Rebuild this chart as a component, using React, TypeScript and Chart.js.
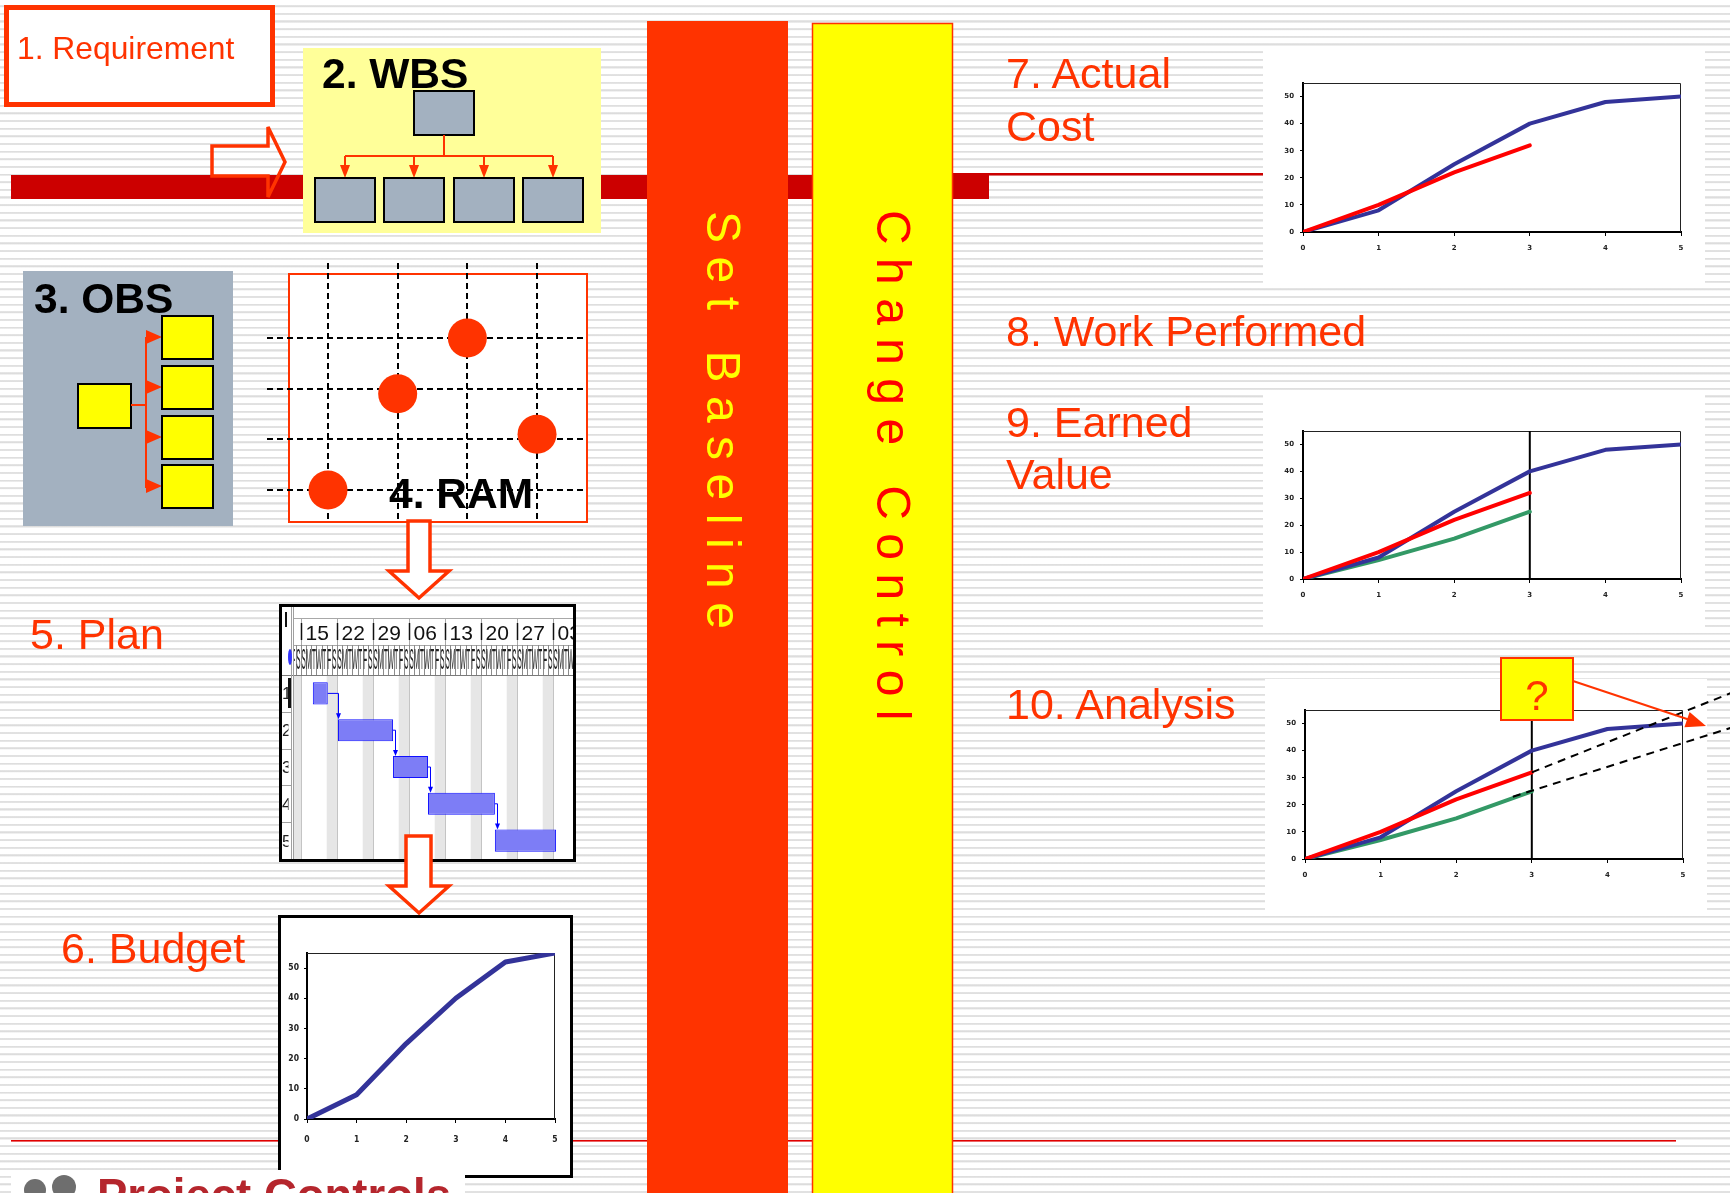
import React, { useEffect, useRef } from "react";
import { Chart, registerables } from "chart.js";

Chart.register(...registerables);

// ---------- data ----------
const PERIODS = [0, 1, 2, 3, 4, 5];
const BUDGET_CURVE = [0, 8, 25, 40, 52, 55];
const PLANNED_VALUE = [0, 8, 25, 40, 48, 50];
const ACTUAL_COST = [0, 10, 22, 32];
const EARNED_VALUE = [0, 7, 15, 25];
const STATUS_DATE = 3;
const COST_FORECAST = [{ x: 3, y: 32 }, { x: 5.7, y: 62 }];
const VALUE_FORECAST = [{ x: 2.75, y: 23 }, { x: 5.7, y: 49 }];
const VALUE_TICKS = [0, 10, 20, 30, 40, 50];
const VALUE_MAX = 55;

const TASK_IDS = ["1", "2", "3", "4", "5"];
const TASK_SPANS = [[2.3, 5.2], [7.2, 17.9], [17.9, 24.7], [24.7, 37.7], [37.7, 49.6]];
const WEEK_LABELS = ["15", "22", "29", "06", "13", "20", "27", "03"];
const DAY_LETTERS = ["S", "M", "T", "W", "T", "F", "S"];

const RAM_GRID = [1, 2, 3, 4];
const RAM_ASSIGNMENTS = [{ x: 3, y: 4 }, { x: 2, y: 2.9 }, { x: 4, y: 2.1 }, { x: 1, y: 1 }];

// ---------- styling ----------
const ORANGE = "#ff3300";
const BLUE = "#333399";
const RED = "#ff0000";
const GREEN = "#339966";
const SANS = "'Liberation Sans', Arial, Helvetica, sans-serif";

const series = (ys: number[]) => ys.map((y, i) => ({ x: PERIODS[i], y }));
const statusLine = () => [{ x: STATUS_DATE, y: 0 }, { x: STATUS_DATE, y: VALUE_MAX }];

const plotFrame = {
  id: "plotFrame",
  beforeDatasetsDraw(chart: any) {
    const { ctx, chartArea: a } = chart;
    ctx.save();
    ctx.strokeStyle = "#222";
    ctx.lineWidth = 1;
    ctx.beginPath();
    ctx.moveTo(a.left, a.top + 0.5);
    ctx.lineTo(a.right - 0.5, a.top + 0.5);
    ctx.lineTo(a.right - 0.5, a.bottom);
    ctx.stroke();
    ctx.restore();
  },
};

type Pad = { left: number; top: number; right: number; bottom: number };

function curveConfig(datasets: any[], pad: Pad, yW: number, xH: number, font: any, xPad: number, yPad: number) {
  return {
    type: "line",
    data: { datasets },
    options: {
      responsive: false,
      animation: false,
      events: [],
      layout: { padding: pad, autoPadding: false },
      plugins: { legend: { display: false }, tooltip: { enabled: false } },
      elements: {
        point: { radius: 0, hoverRadius: 0 },
        line: { tension: 0, borderCapStyle: "round", borderJoinStyle: "round" },
      },
      scales: {
        x: {
          type: "linear",
          min: 0,
          max: 5,
          afterBuildTicks: (s: any) => {
            s.ticks = PERIODS.map((v) => ({ value: v }));
          },
          afterFit: (s: any) => {
            s.height = xH;
          },
          ticks: { font, color: "#222", padding: xPad, maxRotation: 0, autoSkip: false },
          grid: { drawOnChartArea: false, tickLength: 4, color: "#000", lineWidth: 1 },
          border: { color: "#000", width: 2 },
        },
        y: {
          type: "linear",
          min: 0,
          max: VALUE_MAX,
          afterBuildTicks: (s: any) => {
            s.ticks = VALUE_TICKS.map((v) => ({ value: v }));
          },
          afterFit: (s: any) => {
            s.width = yW;
          },
          ticks: { font, color: "#222", padding: yPad, autoSkip: false },
          grid: { drawOnChartArea: false, tickLength: 3, color: "#000", lineWidth: 1 },
          border: { color: "#000", width: 2 },
        },
      },
    },
    plugins: [plotFrame],
  };
}

const SMALL_FONT = { family: "'DejaVu Sans', sans-serif", size: 7, weight: "bold" };
const NARROW_FONT = { family: "'Liberation Sans Narrow', 'DejaVu Sans Condensed', sans-serif", size: 8.5, weight: "bold" };

const line = (data: any[], color: string, width = 4) => ({ data, borderColor: color, borderWidth: width });
const forecast = (data: any[]) => ({
  data,
  borderColor: "#000",
  borderWidth: 2,
  borderDash: [8, 6],
  borderCapStyle: "butt",
  clip: false,
});

const budgetConfig = () =>
  curveConfig([line(series(BUDGET_CURVE), BLUE, 5)], { left: 6, top: 35, right: 15, bottom: 28 }, 20, 28, NARROW_FONT, 12, 5);

const costConfig = () =>
  curveConfig(
    [line(series(ACTUAL_COST), RED), line(series(PLANNED_VALUE), BLUE)],
    { left: 18, top: 37, right: 24, bottom: 33 },
    22,
    22,
    SMALL_FONT,
    8,
    6
  );

const earnedConfig = () =>
  curveConfig(
    [
      line(series(ACTUAL_COST), RED),
      line(series(PLANNED_VALUE), BLUE),
      line(series(EARNED_VALUE), GREEN),
      { ...line(statusLine(), "#000", 2), borderCapStyle: "butt" },
    ],
    { left: 18, top: 36, right: 24, bottom: 32 },
    22,
    22,
    SMALL_FONT,
    8,
    6
  );

const analysisConfig = () =>
  curveConfig(
    [
      forecast(COST_FORECAST),
      forecast(VALUE_FORECAST),
      line(series(ACTUAL_COST), RED),
      line(series(PLANNED_VALUE), BLUE),
      line(series(EARNED_VALUE), GREEN),
      { ...line(statusLine(), "#000", 2), borderCapStyle: "butt" },
    ],
    { left: 18, top: 31, right: 47, bottom: 29 },
    22,
    22,
    SMALL_FONT,
    8,
    6
  );

// ---------- responsibility matrix ----------
const ramMatrix = {
  id: "ramMatrix",
  beforeDatasetsDraw(chart: any) {
    const { ctx, scales } = chart;
    ctx.save();
    ctx.fillStyle = "#fff";
    ctx.fillRect(27, 16, 298, 248);
    ctx.strokeStyle = ORANGE;
    ctx.lineWidth = 2;
    ctx.strokeRect(27, 16, 298, 248);
    ctx.strokeStyle = "#000";
    ctx.lineWidth = 2;
    ctx.setLineDash([6, 4]);
    RAM_GRID.forEach((v) => {
      const x = Math.round(scales.x.getPixelForValue(v));
      ctx.beginPath();
      ctx.moveTo(x, 5);
      ctx.lineTo(x, 264);
      ctx.stroke();
      const y = Math.round(scales.y.getPixelForValue(v));
      ctx.beginPath();
      ctx.moveTo(5, y);
      ctx.lineTo(322, y);
      ctx.stroke();
    });
    ctx.restore();
  },
};

const ramConfig = () => ({
  type: "scatter",
  data: {
    datasets: [
      {
        data: RAM_ASSIGNMENTS,
        pointRadius: 19.5,
        pointHoverRadius: 19.5,
        pointBackgroundColor: ORANGE,
        pointBorderWidth: 0,
        backgroundColor: ORANGE,
        clip: false,
      },
    ],
  },
  options: {
    responsive: false,
    animation: false,
    events: [],
    layout: { padding: 0, autoPadding: false },
    scales: {
      x: { type: "linear", min: 0.0527, max: 4.789, display: false },
      y: { type: "linear", min: 0.27, max: 5.579, display: false },
    },
    plugins: { legend: { display: false }, tooltip: { enabled: false } },
  },
  plugins: [ramMatrix],
});

// ---------- schedule ----------
const ganttSheet = {
  id: "ganttSheet",
  beforeDatasetsDraw(chart: any) {
    const { ctx, chartArea: a, scales } = chart;
    const W = chart.width;
    const H = chart.height;
    const px = (d: number) => scales.x.getPixelForValue(d);
    const rowH = (a.bottom - a.top) / TASK_IDS.length;
    const HDR1 = 11;
    const HDR2 = 38;
    const seg = (x0: number, y0: number, x1: number, y1: number) => {
      ctx.beginPath();
      ctx.moveTo(x0, y0);
      ctx.lineTo(x1, y1);
      ctx.stroke();
    };
    ctx.save();
    ctx.fillStyle = "#fff";
    ctx.fillRect(0, 0, W, H);

    // body: weekend bands and week rules
    ctx.save();
    ctx.beginPath();
    ctx.rect(a.left, a.top, a.right - a.left, a.bottom - a.top);
    ctx.clip();
    ctx.fillStyle = "#e6e6e6";
    for (let k = 0; k <= WEEK_LABELS.length; k++) {
      const x0 = px(7 * k - 2);
      const x1 = px(7 * k);
      ctx.fillRect(x0, a.top, x1 - x0, a.bottom - a.top);
    }
    ctx.strokeStyle = "#c4c4c4";
    ctx.lineWidth = 1;
    for (let k = 0; k <= WEEK_LABELS.length; k++) {
      const x = Math.round(px(7 * k)) + 0.5;
      seg(x, a.top, x, a.bottom);
    }
    ctx.restore();

    // timescale header
    ctx.save();
    ctx.beginPath();
    ctx.rect(a.left, 0, W - a.left, a.top);
    ctx.clip();
    ctx.strokeStyle = "#a8a8a8";
    ctx.lineWidth = 1;
    seg(a.left, HDR1 + 0.5, W, HDR1 + 0.5);
    seg(a.left, HDR2 + 0.5, W, HDR2 + 0.5);
    for (let d = -2; d < 54; d++) {
      const x = Math.round(px(d)) + 0.5;
      ctx.strokeStyle = "#8c8c8c";
      seg(x, HDR2, x, a.top);
      ctx.save();
      ctx.translate(px(d + 0.5), 62);
      ctx.scale(0.22, 1);
      ctx.fillStyle = "#222";
      ctx.font = `29px ${SANS}`;
      ctx.textAlign = "center";
      ctx.fillText(DAY_LETTERS[((d % 7) + 7) % 7], 0, 0);
      ctx.restore();
    }
    WEEK_LABELS.forEach((lab, k) => {
      const x = Math.round(px(7 * k)) + 0.5;
      ctx.strokeStyle = "#a8a8a8";
      ctx.lineWidth = 1;
      seg(x, HDR1, x, HDR2);
      ctx.strokeStyle = "#111";
      ctx.lineWidth = 1.5;
      seg(x, 16, x, 33);
      ctx.fillStyle = "#111";
      ctx.font = `21px ${SANS}`;
      ctx.textAlign = "left";
      ctx.fillText(lab, x + 4, 33);
    });
    ctx.restore();

    ctx.strokeStyle = "#7a7a7a";
    ctx.lineWidth = 1;
    seg(0, a.top + 0.5, W, a.top + 0.5);

    // row header column
    ctx.strokeStyle = "#a0a0a0";
    seg(9.5, 0, 9.5, H);
    seg(11.5, 0, 11.5, H);
    for (let i = 1; i < TASK_IDS.length; i++) {
      const y = Math.round(a.top + i * rowH) + 0.5;
      seg(0, y, 9, y);
    }
    ctx.save();
    ctx.beginPath();
    ctx.rect(0, a.top, 6.5, H);
    ctx.clip();
    ctx.fillStyle = "#222";
    ctx.font = `17px ${SANS}`;
    TASK_IDS.forEach((id, i) => {
      ctx.fillText(id, 0, scales.y.getPixelForValue(i) + 6);
    });
    ctx.restore();
    ctx.fillStyle = "#111";
    ctx.fillRect(6, a.top + 3, 3, 30);
    ctx.fillRect(3, 5, 2, 15);
    ctx.fillStyle = "#3333ff";
    ctx.beginPath();
    ctx.ellipse(8, 50, 2, 8, 0, 0, Math.PI * 2);
    ctx.fill();
    ctx.restore();
  },
  afterDatasetsDraw(chart: any) {
    const { ctx, chartArea: a, scales } = chart;
    const px = (d: number) => scales.x.getPixelForValue(d);
    const rowH = (a.bottom - a.top) / TASK_IDS.length;
    const half = (rowH * 0.6) / 2;
    ctx.save();
    ctx.strokeStyle = "#0000ff";
    ctx.fillStyle = "#0000ff";
    ctx.lineWidth = 1;
    for (let i = 0; i < TASK_SPANS.length - 1; i++) {
      const end = px(TASK_SPANS[i][1]);
      const nextStart = px(TASK_SPANS[i + 1][0]);
      const yc = scales.y.getPixelForValue(i);
      const nextTop = scales.y.getPixelForValue(i + 1) - half;
      const xl = Math.round(Math.max(nextStart, end + 2)) + 0.5;
      ctx.beginPath();
      ctx.moveTo(end, yc);
      ctx.lineTo(xl, yc);
      ctx.lineTo(xl, nextTop - 5);
      ctx.stroke();
      ctx.beginPath();
      ctx.moveTo(xl - 2.5, nextTop - 6);
      ctx.lineTo(xl + 2.5, nextTop - 6);
      ctx.lineTo(xl, nextTop);
      ctx.closePath();
      ctx.fill();
    }
    ctx.restore();
  },
};

const ganttConfig = () => ({
  type: "bar",
  data: {
    labels: TASK_IDS,
    datasets: [
      {
        data: TASK_SPANS,
        backgroundColor: "#7d7df6",
        borderColor: "#1010ff",
        borderWidth: 1,
        borderSkipped: false,
        barPercentage: 0.6,
        categoryPercentage: 1,
      },
    ],
  },
  options: {
    indexAxis: "y",
    responsive: false,
    animation: false,
    events: [],
    layout: { padding: { left: 11, top: 68, right: 0, bottom: 0 }, autoPadding: false },
    scales: {
      x: { type: "linear", min: -1.556, max: 52.89, display: false },
      y: { display: false },
    },
    plugins: { legend: { display: false }, tooltip: { enabled: false } },
  },
  plugins: [ganttSheet],
});

// ---------- components ----------
function ChartCanvas({ left, top, width, height, make }: { left: number; top: number; width: number; height: number; make: () => any }) {
  const ref = useRef<HTMLCanvasElement>(null);
  useEffect(() => {
    const chart = new Chart(ref.current as HTMLCanvasElement, make());
    return () => chart.destroy();
  }, []);
  return (
    <canvas
      ref={ref}
      width={width}
      height={height}
      style={{ position: "absolute", left, top, width, height }}
    />
  );
}

const rootStyle: React.CSSProperties = {
  position: "fixed",
  left: 0,
  top: 0,
  width: 1730,
  height: 1193,
  overflow: "hidden",
  background:
    "repeating-linear-gradient(to bottom, #ffffff 0px, #ffffff 5.2px, #e6e6e6 5.2px, #dcdcdc 6.4px, #e6e6e6 7.1px, #ffffff 7.65px)",
};

const boxFill = "#a3b1c0";

function Backdrop() {
  const wbsChildren = [315, 384, 454, 523];
  const obsChildren = [316, 366, 416, 465];
  return (
    <svg width={1730} height={1193} style={{ position: "absolute", left: 0, top: 0 }}>
      {/* process band */}
      <rect x={11} y={175} width={978} height={24} fill="#cc0000" />
      <rect x={950} y={173} width={320} height={2.5} fill="#cc0000" />
      <rect x={11} y={1140} width={1665} height={1.6} fill="#e00000" />

      {/* requirement */}
      <rect x={6.5} y={7.5} width={266} height={97} fill="#fff" stroke={ORANGE} strokeWidth={5} />
      <polygon
        points="212,146 268,146 268,127 285,162 268,197 268,176 212,176"
        fill="none"
        stroke={ORANGE}
        strokeWidth={3.5}
        strokeLinejoin="miter"
      />

      {/* WBS */}
      <rect x={303} y={48} width={298} height={185} fill="#ffff99" />
      <rect x={414} y={91} width={60} height={44} fill={boxFill} stroke="#000" strokeWidth={2} />
      <g stroke={ORANGE} strokeWidth={2} fill="none">
        <line x1={444} y1={135} x2={444} y2={156} />
        <line x1={345} y1={156} x2={553} y2={156} />
        {wbsChildren.map((x) => (
          <line key={x} x1={x + 30} y1={156} x2={x + 30} y2={167} />
        ))}
      </g>
      {wbsChildren.map((x) => (
        <polygon key={"a" + x} points={`${x + 25},165 ${x + 35},165 ${x + 30},178`} fill={ORANGE} />
      ))}
      {wbsChildren.map((x) => (
        <rect key={"b" + x} x={x} y={178} width={60} height={44} fill={boxFill} stroke="#000" strokeWidth={2} />
      ))}

      {/* OBS */}
      <rect x={23} y={271} width={210} height={255} fill={boxFill} />
      <rect x={78} y={384} width={53} height={44} fill="#ffff00" stroke="#000" strokeWidth={2} />
      <g stroke={ORANGE} strokeWidth={2} fill="none">
        <line x1={131} y1={405} x2={146} y2={405} />
        <line x1={146} y1={337} x2={146} y2={488} />
      </g>
      {obsChildren.map((y) => (
        <polygon key={"o" + y} points={`146,${y + 14} 162,${y + 21} 146,${y + 28}`} fill={ORANGE} />
      ))}
      {obsChildren.map((y) => (
        <rect key={"r" + y} x={162} y={y} width={51} height={43} fill="#ffff00" stroke="#000" strokeWidth={2} />
      ))}

      {/* chart panels */}
      <rect x={1263} y={46} width={442} height={241} fill="#fff" />
      <rect x={1263} y={395} width={442} height={238} fill="#fff" />
      <rect x={1265} y={679} width={442} height={231} fill="#fff" />
      <rect x={280.5} y={605.5} width={294} height={255} fill="#fff" stroke="#000" strokeWidth={3} />
      <rect x={279.5} y={916.5} width={292} height={260} fill="#fff" stroke="#000" strokeWidth={3} />

      {/* baseline and change control */}
      <rect x={647} y={21} width={141} height={1180} fill={ORANGE} />
      <rect x={812.5} y={23.5} width={140} height={1180} fill="#ffff00" stroke={ORANGE} strokeWidth={1.5} />
    </svg>
  );
}

function Labels() {
  const label = (x: number, y: number, t: string, size = 43) => (
    <text x={x} y={y} fontSize={size} fill={ORANGE} fontFamily={SANS}>
      {t}
    </text>
  );
  const heading = (x: number, y: number, t: string) => (
    <text x={x} y={y} fontSize={42.5} fontWeight="bold" fill="#000" fontFamily={SANS}>
      {t}
    </text>
  );
  return (
    <svg width={1730} height={1193} style={{ position: "absolute", left: 0, top: 0 }}>
      {label(17, 59, "1. Requirement", 31.8)}
      {heading(322, 88, "2. WBS")}
      {heading(34, 313, "3. OBS")}
      {heading(389, 508, "4. RAM")}
      {label(30, 649, "5. Plan")}
      {label(61, 963, "6. Budget")}
      {label(1006, 88, "7. Actual")}
      {label(1006, 141, "Cost")}
      {label(1006, 346, "8. Work Performed")}
      {label(1006, 437, "9. Earned")}
      {label(1006, 489, "Value")}
      {label(1006, 719, "10. Analysis")}

      <text x={707} y={211} transform="rotate(90 707 211)" fontSize={48} letterSpacing={13.5} fill="#ffff00" fontFamily={SANS}>
        Set Baseline
      </text>
      <text x={877} y={210} transform="rotate(90 877 210)" fontSize={48} letterSpacing={13.4} fill={RED} fontFamily={SANS}>
        Change Control
      </text>

      {/* flow arrows */}
      <polygon
        points="408,521 408,571 389,571 419,598 449,571 430,571 430,521"
        fill="#fff"
        stroke={ORANGE}
        strokeWidth={3.5}
      />
      <polygon
        points="406,836 406,886 389,886 419,913 449,886 431,886 431,836"
        fill="#fff"
        stroke={ORANGE}
        strokeWidth={3.5}
      />

      {/* forecast question */}
      <line x1={1573} y1={681} x2={1690} y2={720} stroke={ORANGE} strokeWidth={2} />
      <polygon points="1706,726 1684.4,727.2 1689.6,712" fill={ORANGE} />
      <rect x={1501} y={658} width={72} height={62} fill="#ffff00" stroke={ORANGE} strokeWidth={2} />
      <text x={1537} y={710} fontSize={42} textAnchor="middle" fill={ORANGE} fontFamily={SANS}>
        ?
      </text>

      {/* footer logo */}
      <rect x={11} y={1170} width={454} height={30} fill="#fff" />
      <circle cx={35} cy={1190} r={11} fill="#6e6e6e" />
      <circle cx={64} cy={1187} r={12} fill="#6e6e6e" />
      <text x={97} y={1211} fontSize={45.5} fontWeight="bold" fill="#b5262d" fontFamily={SANS}>
        Project Controls
      </text>
    </svg>
  );
}

export default function App() {
  return (
    <div style={rootStyle}>
      <Backdrop />
      <ChartCanvas left={262} top={258} width={330} height={269} make={ramConfig} />
      <ChartCanvas left={282} top={607} width={291} height={252} make={ganttConfig} />
      <ChartCanvas left={281} top={918} width={289} height={257} make={budgetConfig} />
      <ChartCanvas left={1263} top={46} width={442} height={241} make={costConfig} />
      <ChartCanvas left={1263} top={395} width={442} height={238} make={earnedConfig} />
      <ChartCanvas left={1265} top={679} width={465} height={231} make={analysisConfig} />
      <Labels />
    </div>
  );
}
